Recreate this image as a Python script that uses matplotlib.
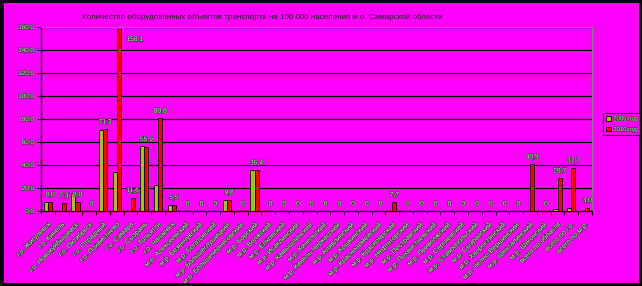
import numpy as np
import matplotlib
matplotlib.use("Agg")
import matplotlib.pyplot as plt
import matplotlib.patheffects as pe
from matplotlib.patches import Rectangle

plt.rcParams['font.family'] = ['Liberation Sans', 'DejaVu Sans']

title = "Количество оборудованных объектов транспорта на 100 000 населения м.о. Самарской области"

names = ["г.о. Жигулевск", "г.о. Кинель", "г.о. Новокуйбышевск", "г.о. Октябрьск",
         "г.о. Отрадный", "г.о. Похвистнево", "г.о. Самара", "г.о. Сызрань",
         "г.о. Тольятти", "г.о. Чапаевск",
         "м.р. Алексеевский", "м.р. Безенчукский", "м.р. Богатовский",
         "м.р. Большеглушицкий", "м.р. Большечерниговский", "м.р. Борский",
         "м.р. Волжский", "м.р. Елховский", "м.р. Исаклинский", "м.р. Камышлинский",
         "м.р. Кинельский", "м.р. Кинель-Черкасский", "м.р. Клявлинский",
         "м.р. Кошкинский", "м.р. Красноармейский", "м.р. Красноярский",
         "м.р. Нефтегорский", "м.р. Пестравский", "м.р. Похвистневский",
         "м.р. Приволжский", "м.р. Сергиевский", "м.р. Ставропольский",
         "м.р. Сызранский", "м.р. Хворостянский", "м.р. Челно-Вершинский",
         "м.р. Шенталинский", "м.р. Шигонский",
         "всего по области", "всего по г.о.", "всего по м.р."]

y2005 = [8.0, 0, 15.7, 0, 70.6, 34.0, 0, 56.7, 22.7, 5.0,
         0, 0, 0, 9.5, 0, 35.4, 0, 0, 0, 0,
         0, 0, 0, 0, 0, 0, 0, 0, 0, 0,
         0, 0, 0, 0, 0, 0, 0, 1.7, 2.9, 0]
y2010 = [8.0, 7.3, 8.0, 0, 71.3, 158.1, 11.6, 55.9, 80.8, 5.5,
         0, 0, 0, 9.8, 0, 35.4, 0, 0, 0, 0,
         0, 0, 0, 0, 0, 7.7, 0, 0, 0, 0,
         0, 0, 0, 0, 0, 40.9, 0, 28.7, 37.7, 3.0]
series = ["2005 год", "2010 год"]

magenta = '#ff00ff'
txtc = '#dcdcdc'
fig = plt.figure(figsize=(6.42, 2.86), dpi=100)
fig.patch.set_facecolor('black')
fig.patches.append(Rectangle((4/642, 3/286), 635/642, 280/286, transform=fig.transFigure,
                             facecolor=magenta, edgecolor='none', zorder=-10))

ax = fig.add_axes([41/642, 1 - 211/286, 551/642, 184/286])
ax.set_facecolor(magenta)

x = np.arange(len(names))
w = 0.3
ax.bar(x - w/2, y2005, w, color='#99cc00', edgecolor='black', linewidth=0.6, label=series[0], zorder=3)
ax.bar(x + w/2, y2010, w, color='#ff0000', edgecolor='black', linewidth=0.6, label=series[1], zorder=3)

outline = [pe.withStroke(linewidth=0.9, foreground='#383838')]
for i, v in enumerate(y2010):
    s = '0' if v == 0 else ('%.1f' % v).replace('.', ',')
    if v > 150:
        ax.text(x[i] + 1.3, v - 12, s, fontsize=4.8, color=txtc, ha='center', va='bottom',
                path_effects=outline, zorder=4)
    else:
        ax.text(x[i] + w/2, v + 3, s, fontsize=4.8, color=txtc, ha='center', va='bottom',
                path_effects=outline, zorder=4)

ax.set_xlim(-0.5, len(names) - 0.5)
ax.set_ylim(0, 160)
yt = np.arange(0, 161, 20)
ax.set_yticks(yt)
ax.set_yticklabels([('%.1f' % v).replace('.', ',') for v in yt], fontsize=4.5, color=txtc)
for t in ax.get_yticklabels():
    t.set_path_effects(outline)
ax.grid(axis='y', color='black', linewidth=0.9, zorder=1)

ax.set_xticks(x)
ax.set_xticklabels(names, rotation=45, ha='right', rotation_mode='anchor',
                   fontsize=5.0, color=txtc)
for t in ax.get_xticklabels():
    t.set_path_effects(outline)
ax.set_xticks(np.arange(-0.5, len(names), 1), minor=True)
ax.tick_params(axis='x', which='major', length=0, pad=7)
ax.tick_params(axis='x', which='minor', length=3, width=0.8, color='black')
ax.tick_params(axis='y', length=3, width=0.8, color='black', pad=2)

for side in ['top', 'right']:
    ax.spines[side].set_color('#808080')
    ax.spines[side].set_linewidth(0.8)
for side in ['left', 'bottom']:
    ax.spines[side].set_color('black')
    ax.spines[side].set_linewidth(1.0)

fig.text(262/642, 1 - 17/286, title, fontsize=5.8, color='#202020', ha='center', va='center')

leg = fig.legend(loc='upper left', bbox_to_anchor=(603/642, 1 - 113/286), fontsize=4.3,
                 frameon=True, fancybox=False, edgecolor='black', facecolor=magenta,
                 handlelength=0.8, handleheight=0.8, borderpad=0.5, labelspacing=0.9,
                 handletextpad=0.4, borderaxespad=0)
leg.get_frame().set_linewidth(0.8)
for t in leg.get_texts():
    t.set_color(txtc)
    t.set_path_effects(outline)

fig.savefig('out.png', dpi=100, facecolor=fig.get_facecolor())
